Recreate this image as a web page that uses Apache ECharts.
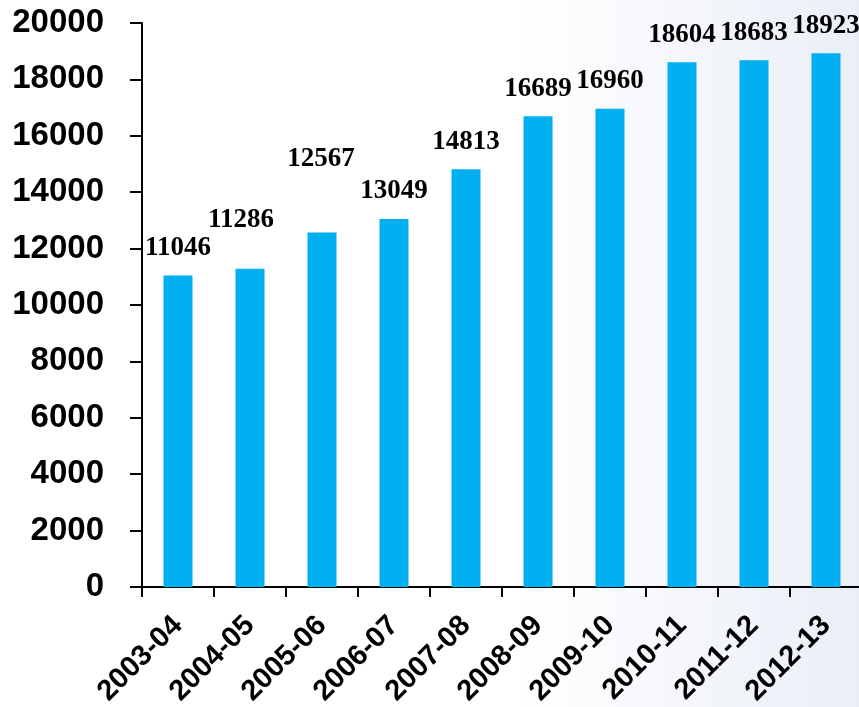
<!DOCTYPE html>
<html>
<head>
<meta charset="utf-8">
<script src="https://cdn.jsdelivr.net/npm/echarts@6/dist/echarts.min.js"></script>
<style>
html,body{margin:0;padding:0;}
#chart{width:859px;height:707px;}
</style>
</head>
<body>
<div id="chart"></div>
<script>
var categories = ['2003-04','2004-05','2005-06','2006-07','2007-08','2008-09','2009-10','2010-11','2011-12','2012-13'];
var values = [11046, 11286, 12567, 13049, 14813, 16689, 16960, 18604, 18683, 18923];
var yTicks = [0, 2000, 4000, 6000, 8000, 10000, 12000, 14000, 16000, 18000, 20000];

// label nudges (style only), indexed like categories
var labelNudges = {1: [-9, -21], 2: [-1, -46]};

var seriesData = values.map(function (v, i) {
  var item = {value: v};
  if (labelNudges[i]) item.label = {offset: labelNudges[i]};
  return item;
});

var chart = echarts.init(document.getElementById('chart'));
chart.setOption({
  animation: false,
  backgroundColor: {
    type: 'linear', x: 0, y: 0, x2: 1, y2: 0,
    colorStops: [
      {offset: 0, color: '#ffffff'},
      {offset: 0.6, color: '#ffffff'},
      {offset: 1, color: '#eaeef7'}
    ]
  },
  grid: {left: 142, top: 23, width: 720, height: 564, containLabel: false, outerBoundsMode: 'none'},
  xAxis: {
    type: 'category',
    data: categories,
    axisLine: {lineStyle: {color: '#000', width: 2}},
    axisTick: {show: true, length: 10, alignWithLabel: false, lineStyle: {color: '#000', width: 2}},
    axisLabel: {
      rotate: 45, margin: 34, interval: 0,
      color: '#000', fontWeight: 'bold', fontSize: 29,
      fontFamily: 'Liberation Sans'
    }
  },
  yAxis: {
    type: 'value',
    min: yTicks[0], max: yTicks[yTicks.length - 1], interval: yTicks[1] - yTicks[0],
    splitLine: {show: false},
    axisLine: {show: true, lineStyle: {color: '#000', width: 2}},
    axisTick: {show: true, length: 12, lineStyle: {color: '#000', width: 2}},
    axisLabel: {
      margin: 38, color: '#000', fontWeight: 'bold', fontSize: 33,
      fontFamily: 'Liberation Sans',
      formatter: function (v) { return String(v); }
    }
  },
  series: [{
    type: 'bar',
    data: seriesData,
    barWidth: 29,
    itemStyle: {color: '#00b0f0'},
    label: {
      show: true, position: 'top', distance: 14,
      color: '#000', fontWeight: 'bold', fontSize: 27,
      fontFamily: 'Liberation Serif'
    }
  }]
});
</script>
</body>
</html>
